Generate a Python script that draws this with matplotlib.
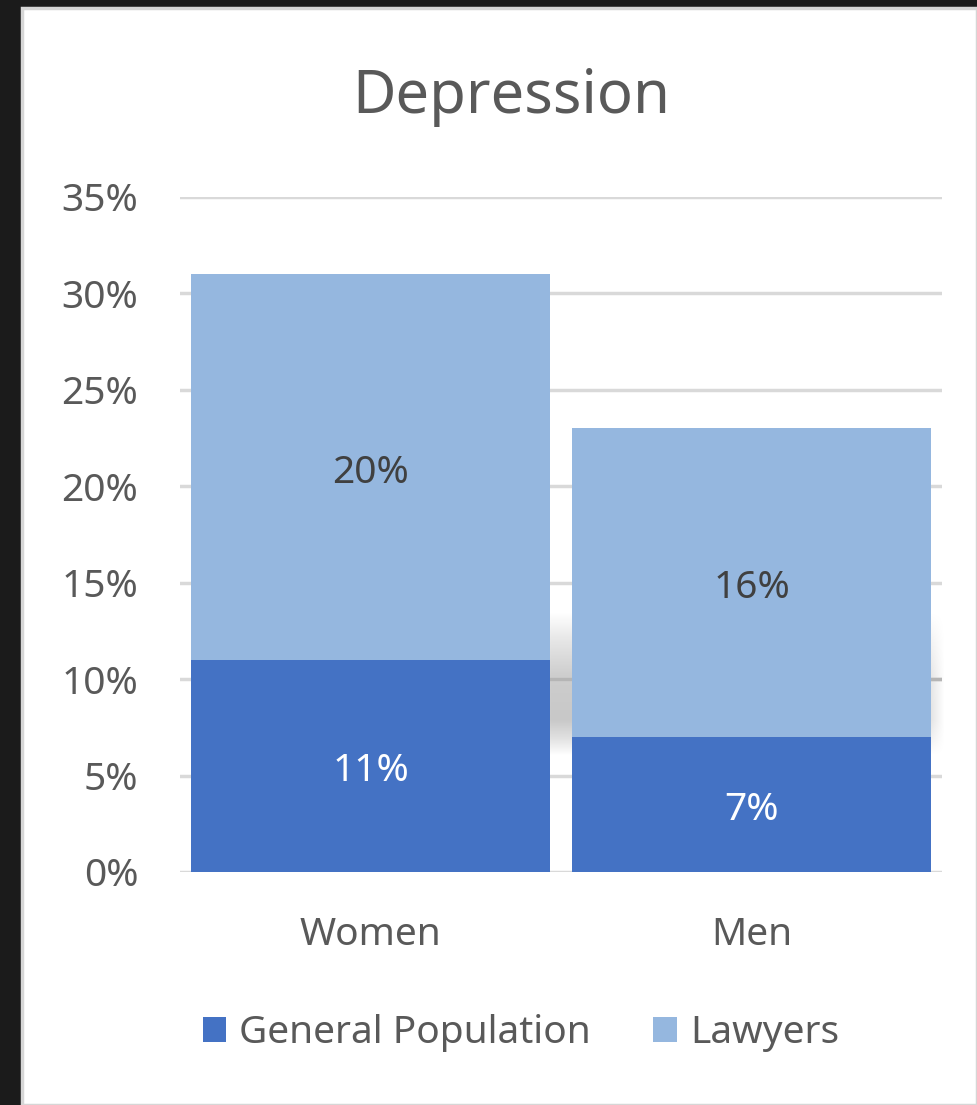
import numpy as np
import matplotlib
matplotlib.use("Agg")
import matplotlib.pyplot as plt
from matplotlib.patches import Rectangle, Patch
from matplotlib.ticker import PercentFormatter

# Depression rates (percent), stacked: general population + lawyers on top
groups = ["Women", "Men"]
general_pop = [11, 7]
lawyers = [20, 16]
series_names = ["General Population", "Lawyers"]
y_ticks = [0, 5, 10, 15, 20, 25, 30, 35]

DARK_BLUE = "#4472C4"
LIGHT_BLUE = "#95B7DF"
TEXT_GRAY = "#595959"
GRID_GRAY = "#D9D9D9"
FS = 28

plt.rcParams["font.family"] = ["Noto Sans", "DejaVu Sans"]

W, H = 977, 1105
fig = plt.figure(figsize=(W / 100, H / 100), dpi=100, facecolor="#1B1B1B")

# white chart card with thin grey rim
card = Rectangle((22 / W, 0), 1 - 22 / W, 1 - 8 / H, transform=fig.transFigure,
                 facecolor="white", edgecolor="#D6D6D6", linewidth=2.5, zorder=-5)
fig.patches.append(card)

ax = fig.add_axes([180 / W, 1 - 872 / H, 762 / W, (872 - 197) / H])
ax.set_facecolor("none")
ax.set_zorder(2)

x = np.arange(len(groups))
width = 0.94
b1 = ax.bar(x, general_pop, width, color=DARK_BLUE, zorder=3)
b2 = ax.bar(x, lawyers, width, bottom=general_pop, color=LIGHT_BLUE, zorder=3)

for rect, v in zip(b1, general_pop):
    ax.annotate(f"{v}%", (rect.get_x() + rect.get_width() / 2, v / 2),
                xytext=(0, -4), textcoords="offset points",
                ha="center", va="center", color="white", fontsize=FS, zorder=4)
for rect, base, v in zip(b2, general_pop, lawyers):
    ax.annotate(f"{v}%", (rect.get_x() + rect.get_width() / 2, base + v / 2),
                xytext=(0, -4), textcoords="offset points",
                ha="center", va="center", color="#404040", fontsize=FS, zorder=4)

# soft grey shadow band running behind the bars
ys = np.linspace(0, 1, 200)
xs = np.linspace(0, 1, 200)
v_prof = np.interp(ys, [0, 0.12, 0.25, 0.55, 0.8, 1], [0, 0.12, 0.22, 0.2, 0.1, 0])
h_prof = np.interp(xs, [0, 0.02, 0.93, 1], [0.6, 1, 1, 0])
shade = np.zeros((200, 200, 4))
shade[..., 3] = v_prof[:, None] * h_prof[None, :]
ax.imshow(shade, extent=[0.45, 1.51, 6, 13.5], origin="lower",
          aspect="auto", zorder=1, clip_on=False, interpolation="bilinear")

ax.set_xlim(-0.5, 1.5)
ax.set_ylim(0, 35)
ax.set_yticks(y_ticks)
ax.yaxis.set_major_formatter(PercentFormatter(decimals=0))
ax.set_xticks(x)
ax.set_xticklabels(groups)
ax.grid(axis="y", color=GRID_GRAY, linewidth=2.5, zorder=0)
ax.axhline(10, color="#B5B5B5", linewidth=2.5, xmin=0.48, xmax=1.0, zorder=2)
for s in ax.spines.values():
    s.set_visible(False)
ax.tick_params(axis="both", length=0, labelsize=FS, colors=TEXT_GRAY)
ax.tick_params(axis="y", pad=30)
ax.tick_params(axis="x", pad=32)

fig.text(511 / W, 1 - 97 / H, "Depression", ha="center", va="center",
         fontsize=43, color=TEXT_GRAY)

handles = [Patch(facecolor=DARK_BLUE), Patch(facecolor=LIGHT_BLUE)]
fig.legend(handles, series_names, loc="center", bbox_to_anchor=(521 / W, 1 - 1033 / H),
           ncol=2, frameon=False, fontsize=FS, labelcolor=TEXT_GRAY,
           handlelength=0.6, handleheight=0.6, handletextpad=0.35, columnspacing=1.6)

fig.savefig("out.png", dpi=100, facecolor=fig.get_facecolor())
